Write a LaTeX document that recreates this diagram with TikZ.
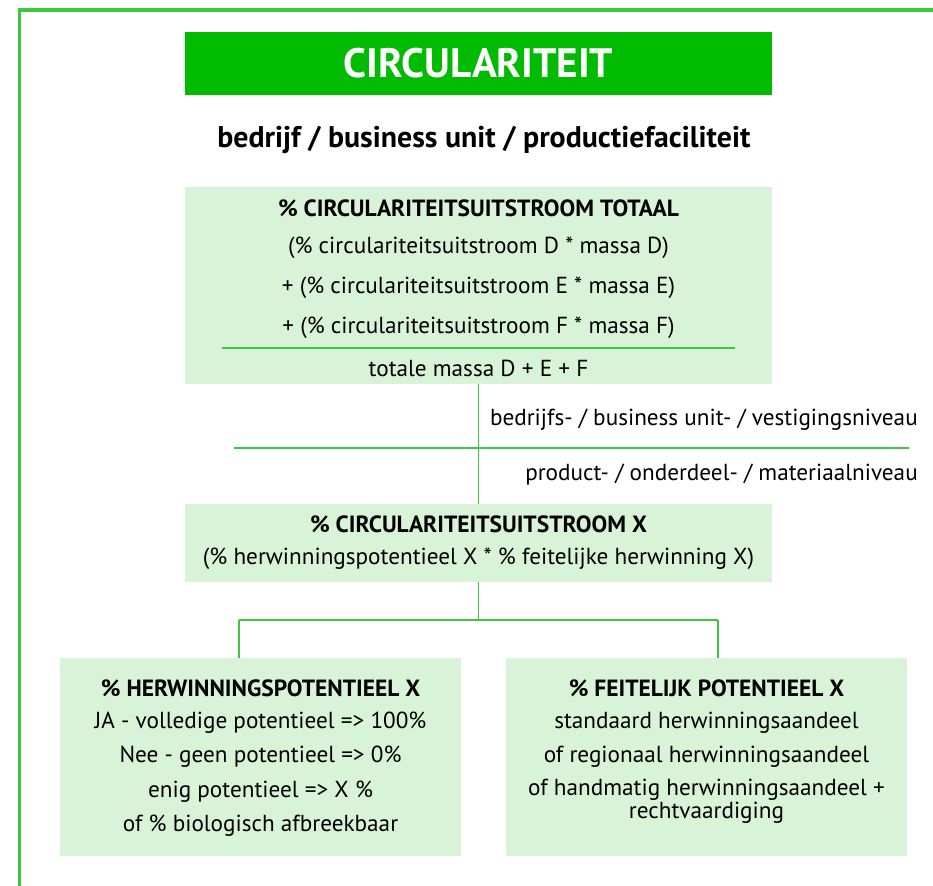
\documentclass[tikz,border=0pt]{standalone}
\usepackage{fontspec}
\setmainfont{PT Sans}
\usetikzlibrary{fit}
\definecolor{kgreen}{RGB}{0,187,0}
\definecolor{lgreen}{RGB}{60,200,60}
\definecolor{boxfill}{RGB}{216,243,216}
\tikzset{
  box/.style={fill=boxfill, draw=none, inner sep=0pt},
  titlebox/.style={fill=kgreen, draw=none, inner sep=0pt},
  conn/.style={draw=lgreen, line width=1.1pt},
  frame/.style={draw=lgreen, line width=2.4pt},
  txt/.style={inner sep=0pt, anchor=center, font=\fontsize{17.4}{20}\selectfont},
  btxt/.style={inner sep=0pt, anchor=center, font=\fontsize{17.6}{20}\selectfont\bfseries},
}
\begin{document}
\begin{tikzpicture}[x=0.75pt,y=-0.75pt]
\useasboundingbox (0,0) rectangle (933,886);
% frame
\coordinate (fbl) at (19.5,886);
\coordinate (ftl) at (19.5,10);
\coordinate (ftr) at (933,10);
\draw[frame] (fbl) -- (ftl) -- (ftr);
% title
\node[titlebox, fit={(185,32) (772,95)}] (title) {};
\node[inner sep=0pt, text=white, font=\fontsize{30.8}{34}\selectfont\bfseries] (titletxt) at (478.5,63) {CIRCULARITEIT};
\node[inner sep=0pt, font=\fontsize{22.4}{26}\selectfont\bfseries] (sub) at (484,140) {bedrijf / business unit / productiefaciliteit};
% box 1
\node[box, fit={(185,187) (772,384)}] (b1) {};
\node[btxt] (b1t) at (478.5,208) {\% CIRCULARITEITSUITSTROOM TOTAAL};
\node[txt] (b1l1) at (478.5,248) {(\% circulariteitsuitstroom D * massa D)};
\node[txt] (b1l2) at (478.5,288) {+ (\% circulariteitsuitstroom E * massa E)};
\node[txt] (b1l3) at (478.5,328) {+ (\% circulariteitsuitstroom F * massa F)};
\node[txt] (b1l4) at (478.5,368) {totale massa D + E + F};
\coordinate (fracl) at (222,348);
\coordinate (fracr) at (735,348);
\draw[conn] (fracl) -- (fracr);
% box 2
\node[box, fit={(185,504) (772,582)}] (b2) {};
\node[btxt] (b2t) at (478.5,524) {\% CIRCULARITEITSUITSTROOM X};
\node[txt] (b2l1) at (478.5,559) {(\% herwinningspotentieel X * \% feitelijke herwinning X)};
% level divider
\draw[conn] (b1.south) -- (b2.north);
\coordinate (lvl) at (234,448);
\coordinate (lvr) at (909,448);
\draw[conn] (lvl) -- (lvr);
\node[txt, anchor=east] (lvup) at (918,420) {bedrijfs- / business unit- / vestigingsniveau};
\node[txt, anchor=east] (lvdn) at (918,475) {product- / onderdeel- / materiaalniveau};
% bottom boxes
\node[box, fit={(60,658) (461,856)}] (b3) {};
\node[box, fit={(506,658) (907,856)}] (b4) {};
\node[btxt] (b3t) at (260.5,688) {\% HERWINNINGSPOTENTIEEL X};
\node[txt] (b3l1) at (260.5,723) {JA - volledige potentieel => 100\%};
\node[txt] (b3l2) at (260.5,757) {Nee - geen potentieel => 0\%};
\node[txt] (b3l3) at (260.5,792) {enig potentieel => X \%};
\node[txt] (b3l4) at (260.5,826) {of \% biologisch afbreekbaar};
\node[btxt] (b4t) at (706.5,688) {\% FEITELIJK POTENTIEEL X};
\node[txt] (b4l1) at (706.5,723) {standaard herwinningsaandeel};
\node[txt] (b4l2) at (706.5,757) {of regionaal herwinningsaandeel};
\node[txt] (b4l3) at (706.5,790) {of handmatig herwinningsaandeel +};
\node[txt] (b4l4) at (706.5,813) {rechtvaardiging};
% tree connectors
\coordinate (j) at (478.5,620);
\coordinate (jl) at (239,620);
\coordinate (jr) at (718,620);
\draw[conn] (b2.south) -- (j);
\draw[conn] (jl) -- (jr);
\draw[conn] (jl) -- (jl |- b3.north);
\draw[conn] (jr) -- (jr |- b4.north);
\end{tikzpicture}
\end{document}
